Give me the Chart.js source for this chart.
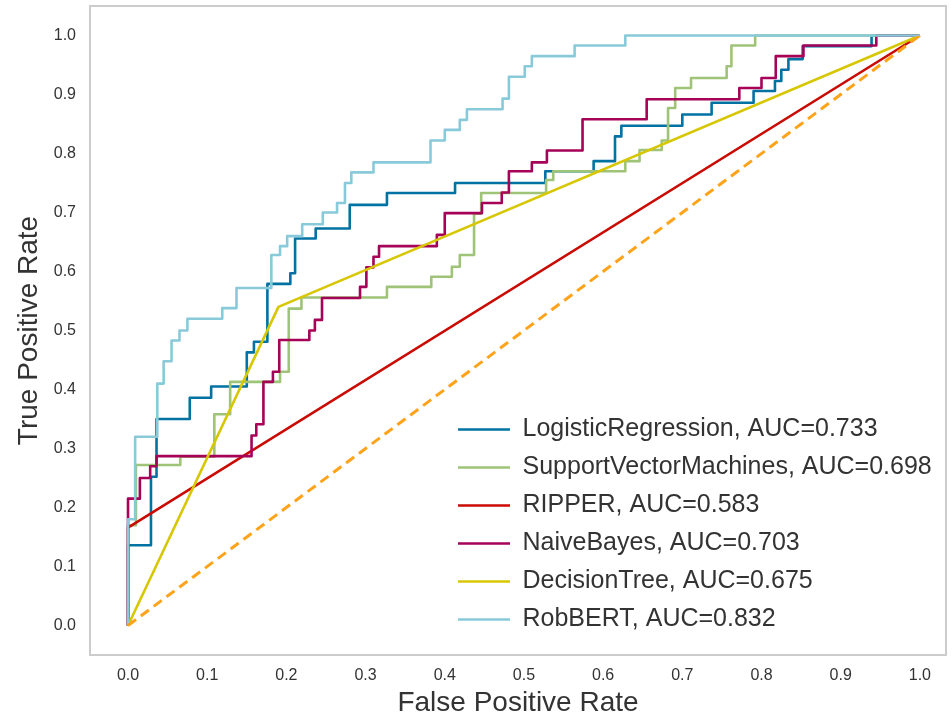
<!DOCTYPE html>
<html>
<head>
<meta charset="utf-8">
<script src="https://cdn.jsdelivr.net/npm/chart.js@4/dist/chart.umd.min.js"></script>
<style>
  html, body { margin: 0; padding: 0; background: #ffffff; }
  #wrap { width: 952px; height: 719px; }
</style>
</head>
<body>
<div id="wrap"><canvas id="roc" width="952" height="719"></canvas></div>
<script>
// ROC curve corner points (false positive rate / true positive rate) per classifier
const lrFpr = [0, 0, 0.029, 0.029, 0.036, 0.036, 0.078, 0.078, 0.105, 0.105, 0.150, 0.150, 0.159, 0.159, 0.176, 0.176, 0.205, 0.205, 0.211, 0.211, 0.237, 0.237, 0.280, 0.280, 0.327, 0.327, 0.413, 0.413, 0.527, 0.527, 0.588, 0.588, 0.615, 0.615, 0.623, 0.623, 0.700, 0.700, 0.737, 0.737, 0.790, 0.790, 0.817, 0.817, 0.825, 0.825, 0.834, 0.834, 0.852, 0.852, 0.939, 0.939, 1];
const lrTpr = [0, 0.136, 0.136, 0.252, 0.252, 0.350, 0.350, 0.386, 0.386, 0.405, 0.405, 0.463, 0.463, 0.481, 0.481, 0.579, 0.579, 0.597, 0.597, 0.656, 0.656, 0.673, 0.673, 0.713, 0.713, 0.733, 0.733, 0.750, 0.750, 0.770, 0.770, 0.787, 0.787, 0.829, 0.829, 0.847, 0.847, 0.866, 0.866, 0.886, 0.886, 0.906, 0.906, 0.923, 0.923, 0.942, 0.942, 0.960, 0.960, 0.982, 0.982, 1, 1];

const svmFpr = [0, 0, 0.010, 0.010, 0.066, 0.066, 0.109, 0.109, 0.129, 0.129, 0.192, 0.192, 0.203, 0.203, 0.219, 0.219, 0.327, 0.327, 0.383, 0.383, 0.409, 0.409, 0.419, 0.419, 0.437, 0.437, 0.446, 0.446, 0.528, 0.528, 0.537, 0.537, 0.628, 0.628, 0.646, 0.646, 0.674, 0.674, 0.682, 0.682, 0.691, 0.691, 0.711, 0.711, 0.756, 0.756, 0.762, 0.762, 0.792, 0.792, 1];
const svmTpr = [0, 0.170, 0.170, 0.272, 0.272, 0.286, 0.286, 0.358, 0.358, 0.413, 0.413, 0.430, 0.430, 0.537, 0.537, 0.556, 0.556, 0.574, 0.574, 0.591, 0.591, 0.608, 0.608, 0.628, 0.628, 0.698, 0.698, 0.733, 0.733, 0.755, 0.755, 0.770, 0.770, 0.787, 0.787, 0.806, 0.806, 0.822, 0.822, 0.877, 0.877, 0.911, 0.911, 0.928, 0.928, 0.948, 0.948, 0.983, 0.983, 1, 1];

const ripperFpr = [0, 0, 1];
const ripperTpr = [0, 0.166, 1];

const nbFpr = [0, 0, 0.015, 0.015, 0.028, 0.028, 0.036, 0.036, 0.156, 0.156, 0.162, 0.162, 0.171, 0.171, 0.183, 0.183, 0.191, 0.191, 0.229, 0.229, 0.236, 0.236, 0.245, 0.245, 0.293, 0.293, 0.301, 0.301, 0.310, 0.310, 0.317, 0.317, 0.390, 0.390, 0.400, 0.400, 0.447, 0.447, 0.472, 0.472, 0.481, 0.481, 0.510, 0.510, 0.529, 0.529, 0.574, 0.574, 0.655, 0.655, 0.772, 0.772, 0.800, 0.800, 0.818, 0.818, 0.853, 0.853, 0.945, 0.945, 1];
const nbTpr = [0, 0.215, 0.215, 0.250, 0.250, 0.270, 0.270, 0.287, 0.287, 0.322, 0.322, 0.341, 0.341, 0.413, 0.413, 0.430, 0.430, 0.484, 0.484, 0.500, 0.500, 0.518, 0.518, 0.555, 0.555, 0.574, 0.574, 0.607, 0.607, 0.625, 0.625, 0.643, 0.643, 0.662, 0.662, 0.699, 0.699, 0.716, 0.716, 0.734, 0.734, 0.770, 0.770, 0.785, 0.785, 0.805, 0.805, 0.858, 0.858, 0.892, 0.892, 0.911, 0.911, 0.928, 0.928, 0.965, 0.965, 0.983, 0.983, 1, 1];

const dtFpr = [0, 0.19, 1];
const dtTpr = [0, 0.54, 1];

const robFpr = [0, 0, 0.009, 0.009, 0.037, 0.037, 0.045, 0.045, 0.055, 0.055, 0.065, 0.065, 0.075, 0.075, 0.119, 0.119, 0.137, 0.137, 0.181, 0.181, 0.192, 0.192, 0.201, 0.201, 0.220, 0.220, 0.246, 0.246, 0.264, 0.264, 0.274, 0.274, 0.282, 0.282, 0.310, 0.310, 0.382, 0.382, 0.400, 0.400, 0.419, 0.419, 0.428, 0.428, 0.473, 0.473, 0.481, 0.481, 0.501, 0.501, 0.510, 0.510, 0.564, 0.564, 0.628, 0.628, 1];
const robTpr = [0, 0.180, 0.180, 0.320, 0.320, 0.410, 0.410, 0.448, 0.448, 0.483, 0.483, 0.500, 0.500, 0.520, 0.520, 0.538, 0.538, 0.572, 0.572, 0.628, 0.628, 0.643, 0.643, 0.660, 0.660, 0.680, 0.680, 0.700, 0.700, 0.716, 0.716, 0.750, 0.750, 0.768, 0.768, 0.785, 0.785, 0.822, 0.822, 0.840, 0.840, 0.857, 0.857, 0.875, 0.875, 0.893, 0.893, 0.930, 0.930, 0.948, 0.948, 0.965, 0.965, 0.983, 0.983, 1, 1];

// chance diagonal
const chanceFpr = [0, 1];
const chanceTpr = [0, 1];

const modelNames = ['LogisticRegression', 'SupportVectorMachines', 'RIPPER', 'NaiveBayes', 'DecisionTree', 'RobBERT'];
const aucValues = [0.733, 0.698, 0.583, 0.703, 0.675, 0.832];
const axisTicks = [0, 0.1, 0.2, 0.3, 0.4, 0.5, 0.6, 0.7, 0.8, 0.9, 1.0];

const curveColors = ['#0272a2', '#9fc377', '#ca0b03', '#a50258', '#d7c703', '#88cada'];
const FONT = '"Liberation Sans", Arial, Helvetica, sans-serif';
const TEXT = '#333333';

const toPoints = (fpr, tpr) => fpr.map((f, i) => ({ x: f, y: tpr[i] }));
const curves = [
  [lrFpr, lrTpr], [svmFpr, svmTpr], [ripperFpr, ripperTpr],
  [nbFpr, nbTpr], [dtFpr, dtTpr], [robFpr, robTpr]
];

const datasets = curves.map(([f, t], i) => ({
  label: modelNames[i] + ', AUC=' + aucValues[i].toFixed(3),
  data: toPoints(f, t),
  borderColor: curveColors[i],
  backgroundColor: curveColors[i],
  borderWidth: 2.6,
  pointRadius: 0,
  tension: 0,
  fill: false,
  borderJoinStyle: 'round',
  order: curves.length - i
}));
datasets.push({
  label: 'chance',
  data: toPoints(chanceFpr, chanceTpr),
  borderColor: '#ffa31a',
  borderWidth: 3,
  borderDash: [10, 6],
  pointRadius: 0,
  fill: false,
  order: 0
});

// box around the plotting area
const frame = {
  id: 'frame',
  afterDraw(chart) {
    const { ctx, chartArea: a } = chart;
    ctx.save();
    ctx.strokeStyle = '#cccccc';
    ctx.lineWidth = 2;
    ctx.strokeRect(a.left, a.top, a.right - a.left, a.bottom - a.top);
    ctx.restore();
  }
};

// put the legend in the lower right of the plotting area
const legendSpot = {
  id: 'legendSpot',
  afterLayout(chart) {
    const lg = chart.legend;
    if (!lg) return;
    const w = lg.width, h = lg.height;
    lg.left = 445;
    lg.top = 404;
    lg.right = lg.left + w;
    lg.bottom = lg.top + h;
  }
};

Chart.defaults.font.family = FONT;

new Chart(document.getElementById('roc'), {
  type: 'line',
  data: { datasets },
  options: {
    responsive: false,
    animation: false,
    devicePixelRatio: 1,
    layout: { padding: { top: 6, right: 6, left: 0, bottom: 0 } },
    scales: {
      x: {
        type: 'linear',
        min: -0.048,
        max: 1.033,
        grid: { display: false, drawTicks: false },
        border: { display: false },
        afterBuildTicks: s => { s.ticks = axisTicks.map(v => ({ value: v })); },
        afterFit: s => { s.height = 64; },
        ticks: {
          padding: 11,
          color: TEXT,
          font: { size: 16 },
          maxRotation: 0,
          callback: v => Number(v).toFixed(1)
        },
        title: {
          display: true,
          text: 'False Positive Rate',
          color: TEXT,
          font: { size: 28, lineHeight: 1.1 },
          padding: { top: 0, bottom: 0 }
        }
      },
      y: {
        type: 'linear',
        min: -0.05,
        max: 1.05,
        grid: { display: false, drawTicks: false },
        border: { display: false },
        afterBuildTicks: s => { s.ticks = axisTicks.map(v => ({ value: v })); },
        afterFit: s => { s.width = 90; s.paddingTop = 0; s.paddingBottom = 0; },
        ticks: {
          padding: 14,
          color: TEXT,
          font: { size: 16 },
          callback: v => Number(v).toFixed(1)
        },
        title: {
          display: true,
          text: 'True Positive Rate',
          color: TEXT,
          font: { size: 28 },
          padding: { top: 12, bottom: 0 }
        }
      }
    },
    plugins: {
      tooltip: { enabled: false },
      legend: {
        position: 'chartArea',
        fullSize: false,
        align: 'start',
        labels: {
          color: TEXT,
          font: { size: 25 },
          padding: 13,
          boxWidth: 52,
          boxHeight: 3,
          usePointStyle: true,
          pointStyle: 'line',
          pointStyleWidth: 52,
          filter: item => item.text !== 'chance',
          sort: (a, b) => a.datasetIndex - b.datasetIndex
        }
      }
    }
  },
  plugins: [frame, legendSpot]
});
</script>
</body>
</html>
